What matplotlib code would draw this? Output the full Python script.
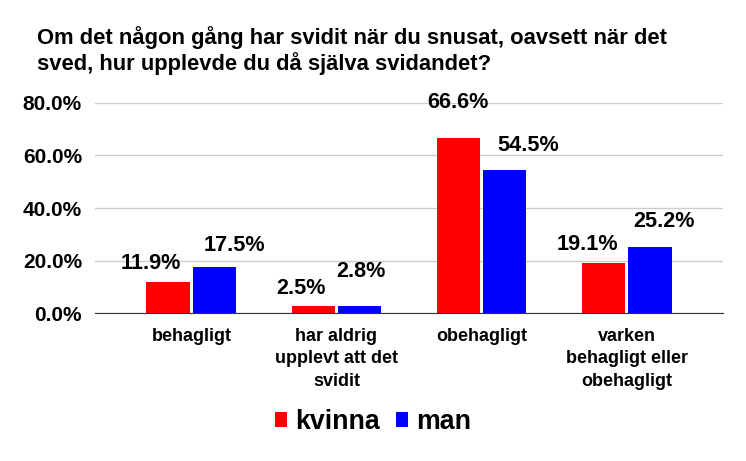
import matplotlib
matplotlib.use("Agg")
import matplotlib.pyplot as plt
import numpy as np

plt.rcParams['font.family'] = ['Liberation Sans', 'DejaVu Sans']

title = "Om det någon gång har svidit när du snusat, oavsett när det\nsved, hur upplevde du då själva svidandet?"
categories = ["behagligt", "har aldrig\nupplevt att det\nsvidit", "obehagligt", "varken\nbehagligt eller\nobehagligt"]
series_names = ["kvinna", "man"]
kvinna = [11.9, 2.5, 66.6, 19.1]
man = [17.5, 2.8, 54.5, 25.2]
colors = ["#ff0000", "#0000ff"]
yticks = [0, 20, 40, 60, 80]
ytick_labels = ["0.0%", "20.0%", "40.0%", "60.0%", "80.0%"]

# label offsets in pixels (dx, dy from bar top)
kv_off = [(-17, 18), (-12, 18), (0, 36), (-16, 18)]
man_off = [(20, 22), (1, 34), (23, 24), (14, 25)]

fig = plt.figure(figsize=(7.46, 4.61), dpi=100)
ax = fig.add_axes([95/746, 1-313/461, (723-95)/746, (313-103)/461])

x = np.arange(len(categories))
w = 0.30
gap = 0.01
b1 = ax.bar(x - w/2 - gap, kvinna, w, color=colors[0], label=series_names[0], zorder=3)
b2 = ax.bar(x + w/2 + gap, man, w, color=colors[1], label=series_names[1], zorder=3)

for bars, vals, offs in ((b1, kvinna, kv_off), (b2, man, man_off)):
    for r, v, (dx, dy) in zip(bars, vals, offs):
        ax.annotate(f"{v:.1f}%", (r.get_x() + r.get_width()/2, v),
                    xytext=(dx, dy), textcoords='offset pixels',
                    ha='center', va='center', fontsize=15.6, fontweight='bold', color='#000000')

ax.set_xlim(-0.665, 3.665)
ax.set_ylim(0, 80)
ax.set_yticks(yticks)
ax.set_yticklabels(ytick_labels, fontsize=15, fontweight='bold')
ax.set_xticks(x)
ax.set_xticklabels(categories, fontsize=13, fontweight='bold', linespacing=1.42, va='top')
ax.tick_params(axis='both', length=0)
ax.tick_params(axis='y', pad=9.4)
ax.tick_params(axis='x', pad=10.5)
ax.grid(axis='y', color='#cccccc', linewidth=1, zorder=0)
for s in ['top', 'right', 'left']:
    ax.spines[s].set_visible(False)
ax.spines['bottom'].set_color('#333333')
ax.spines['bottom'].set_zorder(4)

fig.text(37/746, 1-26/461, title, fontsize=15.8, fontweight='bold', ha='left', va='top', linespacing=1.17)

leg = fig.legend(handles=[b1, b2], loc='center', bbox_to_anchor=(373/746, 1-422/461), ncol=2,
                 frameon=False, prop={'size': 19.3, 'weight': 'bold'}, handlelength=0.45, handleheight=0.45,
                 handletextpad=0.3, columnspacing=0.63)

fig.savefig("out.png", dpi=100)
